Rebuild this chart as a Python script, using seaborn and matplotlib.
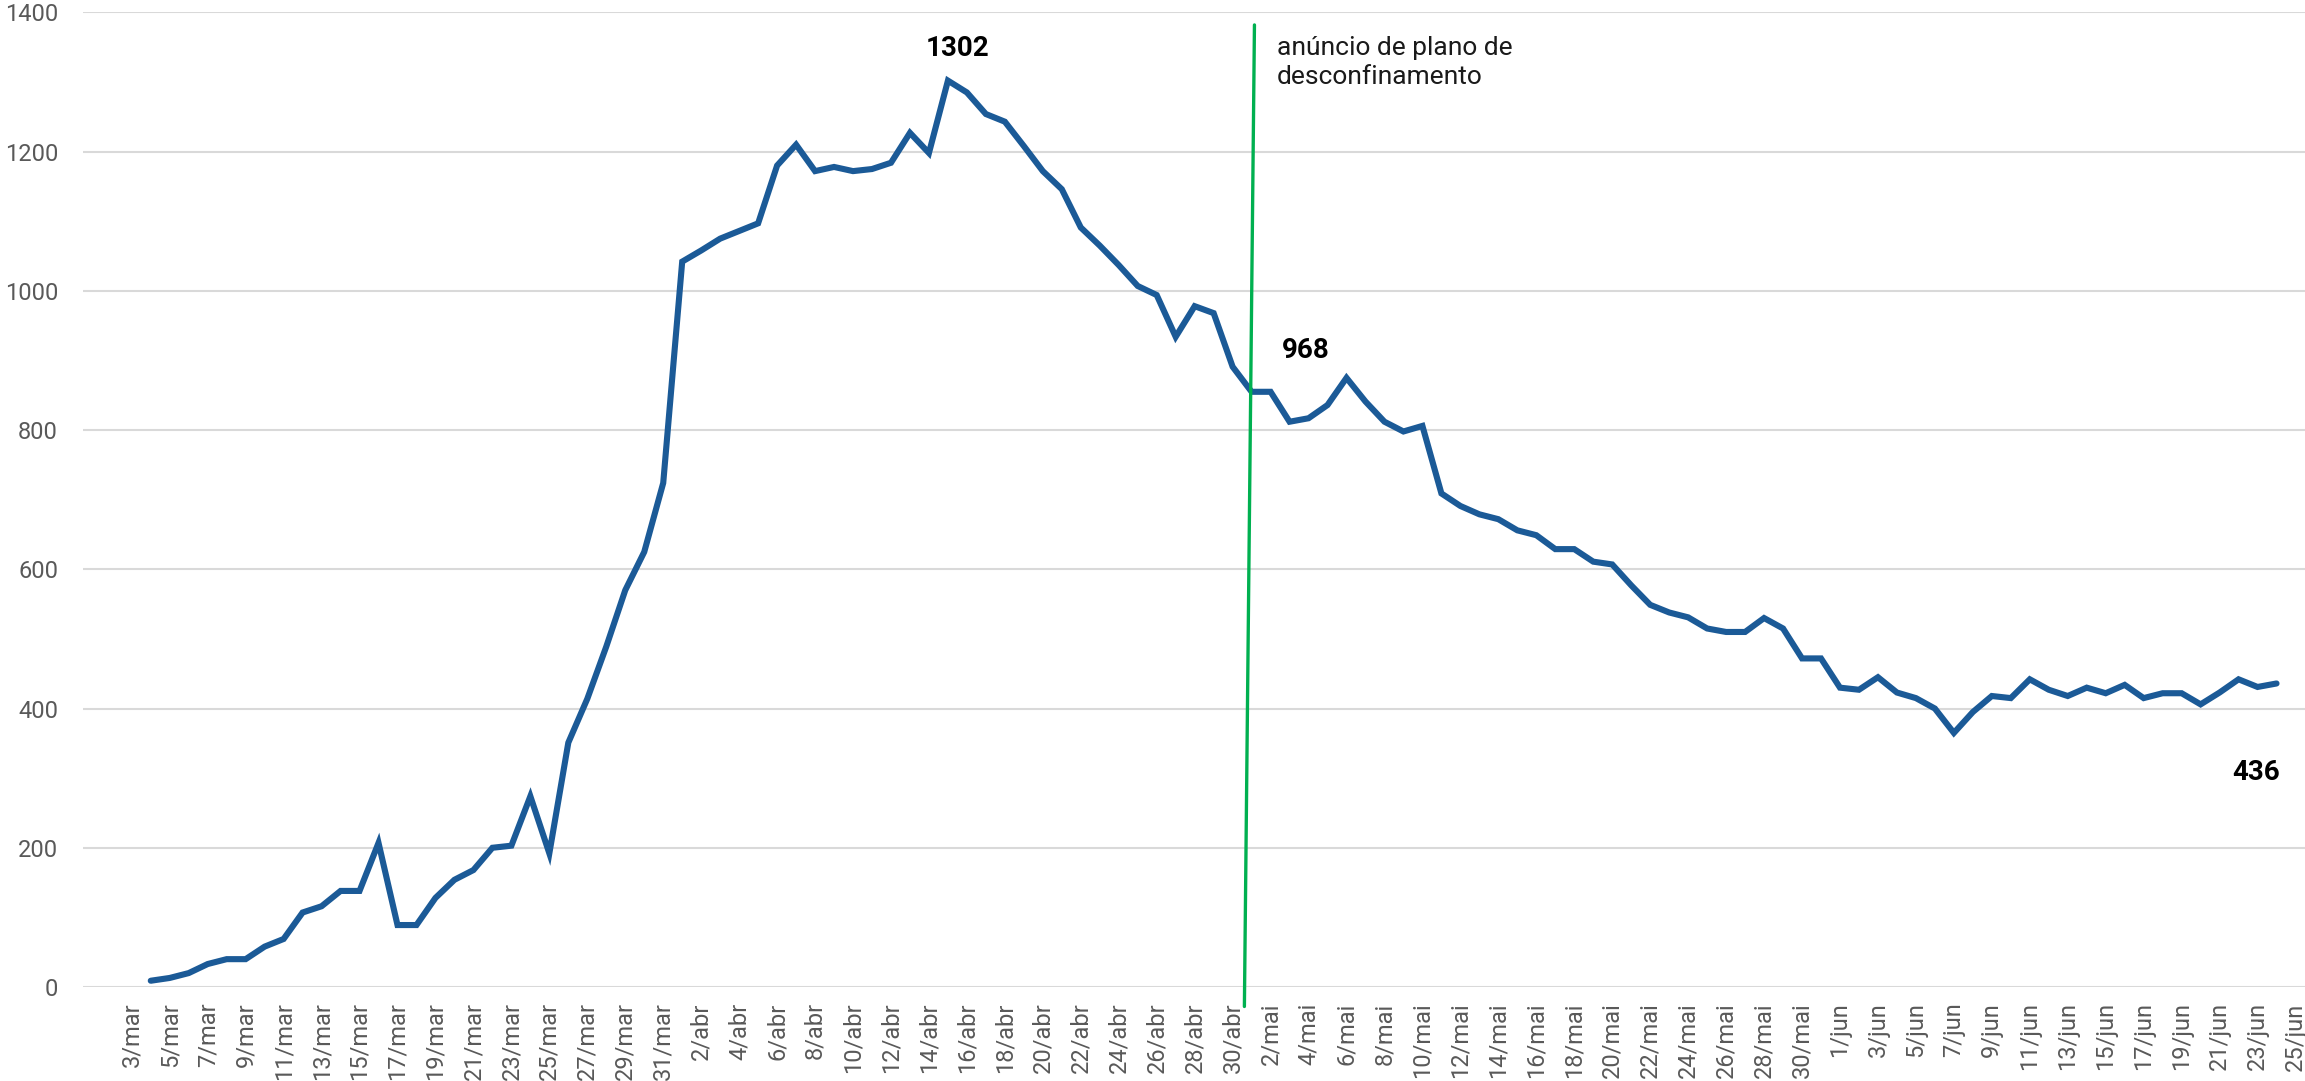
import pandas as pd
import numpy as np
import matplotlib
matplotlib.use("Agg")
import matplotlib.pyplot as plt
import seaborn as sns

# ======================================================
# DATA
# ======================================================

axis_start = "2020-03-03"
axis_end = "2020-06-25"
series_start = "2020-03-04"

month_names = {3: "mar", 4: "abr", 5: "mai", 6: "jun"}

internados = [
    9, 13, 20, 33, 40, 40, 58, 69, 107, 116,
    138, 138, 207, 89, 89, 128, 154, 168, 200, 203,
    274, 192, 351, 414, 489, 570, 625, 724, 1042, 1058,
    1075, 1086, 1097, 1180, 1210, 1172, 1178, 1172, 1175, 1184,
    1227, 1198, 1302, 1285, 1254, 1243, 1208, 1172, 1146, 1091,
    1065, 1037, 1007, 994, 934, 978, 968, 891, 855, 855,
    812, 817, 836, 875, 841, 812, 798, 806, 709, 691,
    679, 672, 656, 649, 629, 629, 611, 607, 577, 549,
    538, 531, 515, 510, 510, 530, 515, 472, 472, 430,
    427, 445, 423, 415, 400, 365, 395, 418, 415, 442,
    427, 418, 430, 422, 434, 415, 422, 422, 406, 423,
    442, 431, 436,
]

value_labels = ["1302", "968", "436"]
announce_text = "anúncio de plano de\ndesconfinamento"
announce_date = "2020-04-30"

y_ticks = [0, 200, 400, 600, 800, 1000, 1200, 1400]

# ======================================================
# LAYOUT / STYLE
# ======================================================

LINE_COLOR = "#1B5A97"
GREEN = "#00B050"
GRID_COLOR = "#D9D9D9"
TICK_COLOR = "#595959"

# label positions (day offset from axis start, value)
label_pos = [(43.48, 1337), (61.88, 903), (111.93, 297)]
announce_text_pos = (60.34, 1366)
# green line drawn a bit slanted like the original
announce_line_dx = [1.15, 0.62]
announce_line_y = [1382, -28]

# ======================================================
# BUILD
# ======================================================

t0 = pd.Timestamp(axis_start)
all_days = pd.date_range(axis_start, axis_end, freq="D")
tick_days = all_days[::2]
tick_pos = [(d - t0).days for d in tick_days]
tick_labels = [f"{d.day}/{month_names[d.month]}" for d in tick_days]

series_days = pd.date_range(series_start, periods=len(internados), freq="D")
df = pd.DataFrame({
    "dia": [(d - t0).days for d in series_days],
    "internados": internados,
})

sns.set_theme(style="white")
plt.rcParams["font.family"] = ["Roboto", "DejaVu Sans"]

W, H = 2305, 1081
fig = plt.figure(figsize=(W / 100, H / 100), dpi=100)
ax = fig.add_axes([83 / W, (H - 987) / H, (W - 83) / W, (987 - 12.4) / H])

sns.lineplot(data=df, x="dia", y="internados", ax=ax, color=LINE_COLOR,
             linewidth=4.4, solid_joinstyle="miter", zorder=3)

ax.set_xlim(-2.57, 114.5)
ax.set_ylim(0, 1400)
ax.set_yticks(y_ticks)
ax.set_yticklabels([str(v) for v in y_ticks])
ax.set_xticks(tick_pos)
ax.set_xticklabels(tick_labels, rotation=90)

ax.grid(axis="y", color=GRID_COLOR, linewidth=1.5)
ax.grid(axis="x", visible=False)
for s in ax.spines.values():
    s.set_visible(False)

ax.tick_params(axis="y", length=0, pad=18, labelsize=17, labelcolor=TICK_COLOR)
ax.tick_params(axis="x", length=0, pad=11, labelsize=17, labelcolor=TICK_COLOR)
ax.set_xlabel("")
ax.set_ylabel("")

# announce line
ann_x = (pd.Timestamp(announce_date) - t0).days
ax.plot([ann_x + announce_line_dx[0], ann_x + announce_line_dx[1]], announce_line_y,
        color=GREEN, linewidth=2.4, clip_on=False, zorder=4)
ax.text(announce_text_pos[0], announce_text_pos[1], announce_text,
        fontsize=19, color="#1A1A1A", ha="left", va="top", linespacing=1.28)

for txt, (lx, ly) in zip(value_labels, label_pos):
    ax.text(lx, ly, txt, fontsize=20, fontweight="bold", color="black",
            ha="center", va="baseline")

fig.savefig("out.png", dpi=100)
